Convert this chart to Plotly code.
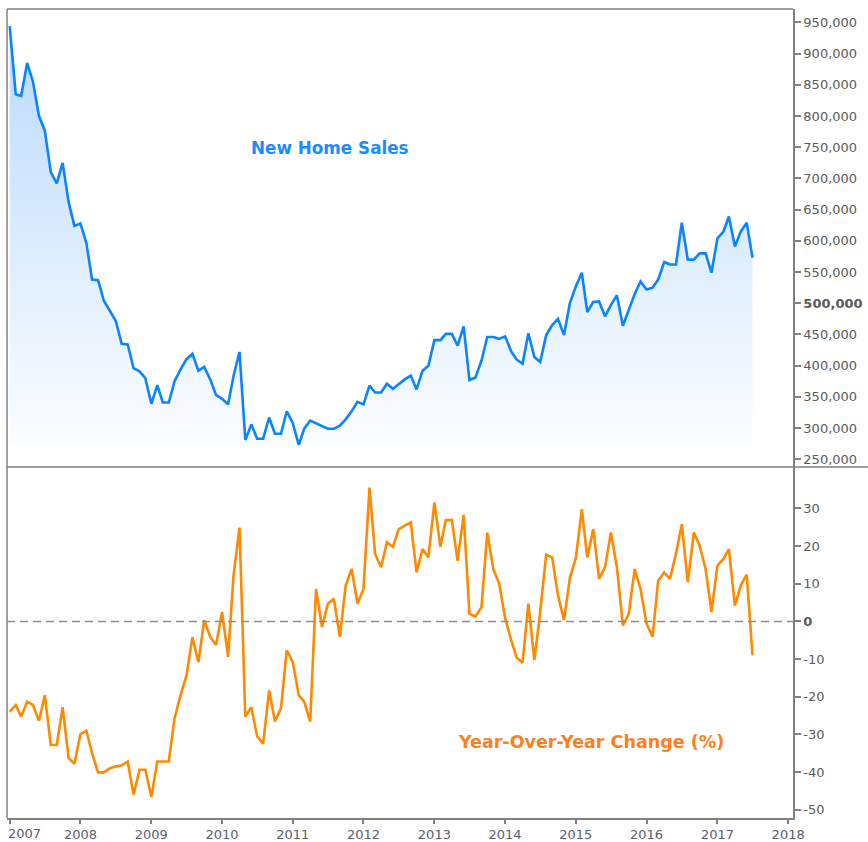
import pandas as pd
import plotly.graph_objects as go

# ---------------- data ----------------
months = pd.date_range("2007-01-01", periods=127, freq="MS")

new_home_sales_k = [
    944, 835, 832, 885, 855, 800, 777, 710, 692, 725,
    662, 624, 628, 596, 538, 537, 504, 487, 472, 435,
    434, 396, 391, 380, 339, 369, 341, 341, 375, 394,
    410, 419, 392, 398, 378, 353, 347, 338, 383, 422,
    281, 306, 283, 283, 317, 291, 291, 327, 308, 273,
    299, 312, 308, 304, 299, 299, 304, 314, 327, 342,
    338, 368, 357, 357, 371, 363, 371, 378, 384, 362,
    392, 400, 441, 441, 451, 451, 432, 463, 377, 381,
    408, 446, 446, 443, 447, 423, 410, 403, 452, 414,
    406, 449, 465, 475, 449, 500, 527, 549, 486, 502,
    503, 479, 497, 513, 464, 490, 515, 535, 522, 525,
    538, 566, 562, 562, 629, 570, 570, 580, 580, 549,
    604, 615, 639, 591, 615, 629, 573,
]
new_home_sales = [v * 1000 for v in new_home_sales_k]

yoy_change = [
    -24.0, -22.2, -25.3, -21.3, -22.2, -26.4, -19.6, -32.8, -32.8, -22.8,
    -36.3, -37.8, -29.9, -29.0, -35.0, -40.1, -40.1, -39.0, -38.5, -38.2,
    -37.2, -46.0, -39.4, -39.4, -46.6, -37.2, -37.2, -37.2, -25.7, -19.5,
    -14.5, -4.2, -10.8, 0.3, -4.1, -6.3, 2.5, -9.4, 12.0, 24.9,
    -25.3, -22.8, -30.5, -32.5, -18.3, -26.6, -23.1, -7.7, -10.8, -19.6,
    -21.3, -26.6, 8.6, -1.5, 4.7, 6.0, -4.1, 9.5, 13.9, 4.7,
    8.6, 35.5, 17.9, 14.4, 21.0, 19.8, 24.5, 25.5, 26.3, 13.0,
    19.2, 17.0, 31.6, 19.8, 26.9, 26.9, 16.1, 28.3, 2.0, 1.3,
    3.8, 23.6, 13.9, 10.1, 1.0, -5.0, -9.5, -11.0, 4.7, -10.3,
    2.5, 17.7, 17.0, 6.9, 0.3, 11.5, 16.8, 29.8, 17.0, 24.5,
    11.3, 14.4, 23.6, 14.4, -1.1, 2.0, 13.9, 8.6, -0.6, -4.1,
    10.8, 13.0, 11.3, 18.0, 25.8, 10.4, 23.6, 20.1, 13.9, 2.5,
    14.8, 16.6, 19.2, 4.2, 9.5, 12.4, -9.0,
]

sales_tick_values = list(range(250000, 950001, 50000))
sales_tick_labels = [
    (f"<b>{v:,}</b>" if v == 500000 else f"{v:,}") for v in sales_tick_values
]
yoy_tick_values = list(range(-50, 31, 10))
yoy_tick_labels = [("<b>0</b>" if v == 0 else str(v)) for v in yoy_tick_values]
year_tick_values = pd.date_range("2007-01-01", "2018-01-01", freq="YS")
year_tick_labels = [str(d.year) for d in year_tick_values]

# ---------------- styles ----------------
BLUE = "#0a84ff"
ORANGE = "#ff8a00"
FRAME = "#808080"
TICKFONT = dict(family="DejaVu Sans", size=13, color="#5a5a5a")
XTICKFONT = dict(family="DejaVu Sans", size=13, color="#5a6070")
SPLIT = 0.4339

fig = go.Figure()

baseline = [min(new_home_sales)] * len(months)
fig.add_trace(go.Scatter(
    x=months, y=baseline, mode="lines", line=dict(width=0),
    hoverinfo="skip", showlegend=False, xaxis="x", yaxis="y",
))
fig.add_trace(go.Scatter(
    x=months, y=new_home_sales, mode="lines",
    line=dict(color=BLUE, width=2.6),
    fill="tonexty",
    fillgradient=dict(
        type="vertical",
        colorscale=[[0, "rgba(252,253,255,1)"], [1, "rgba(186,218,252,1)"]],
    ),
    showlegend=False, xaxis="x", yaxis="y",
))
fig.add_trace(go.Scatter(
    x=months, y=yoy_change, mode="lines",
    line=dict(color=ORANGE, width=2.6),
    showlegend=False, xaxis="x", yaxis="y2",
))

# first year label sits right of its tick (as in the reference) -> annotation
axis_ticktext = [""] + year_tick_labels[1:]

fig.update_layout(
    width=868, height=842,
    margin=dict(l=7, r=75, t=9, b=24, autoexpand=False),
    paper_bgcolor="white", plot_bgcolor="white",
    showlegend=False,
    xaxis=dict(
        type="date", anchor="y2", automargin=False,
        range=["2006-12-18", "2018-01-26"],
        tickvals=year_tick_values, ticktext=axis_ticktext,
        ticks="outside", ticklen=4, tickcolor=FRAME, tickwidth=1.5,
        showline=True, linecolor=FRAME, linewidth=1.5,
        showgrid=False, zeroline=False,
        tickfont=XTICKFONT,
    ),
    yaxis=dict(
        domain=[SPLIT, 1], side="right", anchor="x", automargin=False,
        range=[237700, 971500],
        tickvals=sales_tick_values, ticktext=sales_tick_labels,
        ticks="outside", ticklen=6, tickcolor=FRAME, tickwidth=1.5,
        showline=True, linecolor=FRAME, linewidth=1.5,
        showgrid=False, zeroline=False, tickfont=TICKFONT,
        ticklabeloverflow="allow",
    ),
    yaxis2=dict(
        domain=[0, SPLIT], side="right", anchor="x", automargin=False,
        range=[-52.2, 41.0],
        tickvals=yoy_tick_values, ticktext=yoy_tick_labels,
        ticks="outside", ticklen=6, tickcolor=FRAME, tickwidth=1.5,
        showline=True, linecolor=FRAME, linewidth=1.5,
        showgrid=False, zeroline=False, tickfont=TICKFONT,
        ticklabeloverflow="allow",
    ),
    shapes=[
        dict(type="line", xref="paper", yref="paper", x0=0, x1=1, y0=1, y1=1,
             line=dict(color=FRAME, width=1.5)),
        dict(type="line", xref="paper", yref="paper", x0=0, x1=0, y0=0, y1=1,
             line=dict(color=FRAME, width=1.5)),
        dict(type="line", xref="paper", yref="paper", x0=0, x1=1.0954,
             y0=SPLIT, y1=SPLIT, line=dict(color=FRAME, width=1.5)),
        dict(type="line", xref="paper", yref="y2", x0=0, x1=1, y0=0, y1=0,
             line=dict(color="#8c8c8c", width=1.5, dash="8px,5px")),
    ],
    annotations=[
        dict(text="<b>New Home Sales</b>", xref="paper", yref="paper",
             x=0.411, y=0.828, xanchor="center", yanchor="middle",
             showarrow=False,
             font=dict(family="DejaVu Sans", size=16.8, color="#1a8cff")),
        dict(text="<b>Year-Over-Year Change (%)</b>", xref="paper", yref="paper",
             x=0.743, y=0.094, xanchor="center", yanchor="middle",
             showarrow=False,
             font=dict(family="DejaVu Sans", size=17.5, color="#ff7f1a")),
        dict(text=year_tick_labels[0], xref="x", yref="paper",
             x=year_tick_values[0], y=0, xanchor="left", yanchor="top",
             xshift=-4, yshift=-6, showarrow=False, font=XTICKFONT),
    ],
)

fig.write_html(
    "out.html",
    config={"displayModeBar": False},
    post_script="document.body.style.margin='0px';document.body.style.overflow='hidden';",
)
